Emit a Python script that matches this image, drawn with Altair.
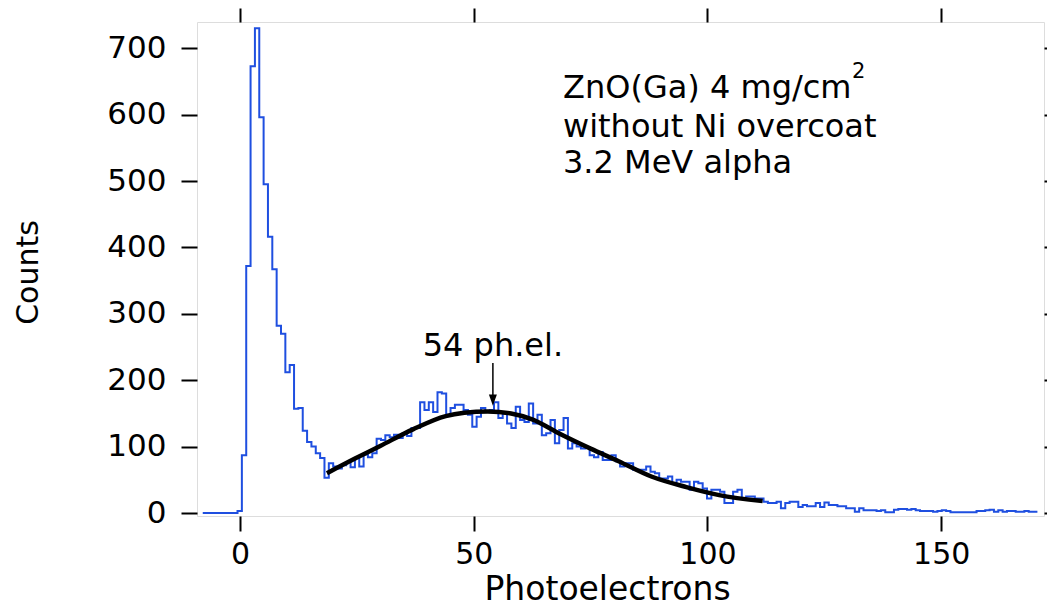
import altair as alt
import pandas as pd

# ---- histogram (step) data ----
bin_start = -7.97
bin_width = 0.93
counts = [
    0, 0, 0, 0, 0, 0, 0, 0, 3,
    87, 372, 673, 730, 596, 495, 416, 367, 282, 270,
    212, 223, 157, 158, 124, 107, 100, 90, 83, 53,
    75, 70, 67, 72, 77, 69, 83, 70, 88, 84, 90,
    112, 110, 117, 114, 118, 113, 120, 116,
    128, 128,
    167, 155, 167, 152, 182, 180, 148, 158, 163, 163,
    155, 148, 130, 145, 158, 152, 155, 167, 143, 150,
    135, 128, 160, 140, 137, 165, 135, 148, 117, 120,
    140, 105, 125, 143, 97, 105, 100, 97, 99, 87,
    84, 92, 80, 80, 87, 78, 70, 75, 75, 65,
    65, 65, 70, 62, 60, 52, 52, 55, 45, 50,
    47, 47, 35, 47, 45, 37, 22, 35, 35, 32,
    15, 15, 32, 35, 22, 25, 25, 22, 22, 17,
    15, 15, 17, 7, 15, 17, 17, 9, 12, 10,
    10, 15, 9, 16, 12, 12, 10, 10, 7, 7,
    2, 7, 4, 4, 4, 3, 4, 1, 1, 5,
    6, 6, 5, 6, 4, 3, 3, 3, 2, 3,
    4, 3, 1, 1, 1, 1, 1, 1, 3, 3,
    4, 5, 2, 4, 2, 3, 3, 2, 2, 3, 2, 2,
]

# ---- fitted curve ----
fit_x = [18.6, 24.6, 30, 37, 44, 48, 53, 58, 62.5, 68.5, 75, 81, 88, 95.5, 102.5, 111.8]
fit_y = [60, 82, 101, 126, 146, 151, 153, 150, 141, 119, 97, 78, 55, 39, 27, 18]

# ---- annotations ----
note_lines = ["ZnO(Ga) 4 mg/cm", "without Ni overcoat", "3.2 MeV alpha"]
note_y = [625, 566, 512]
note_x = 69.1
sup_text = "2"
sup_x, sup_y = 130.9, 655
peak_label = "54 ph.el."
peak_x = 54.1
peak_label_y = 236
arrow_top, arrow_head = 226, 170

x_ticks = [0, 50, 100, 150]
y_ticks = [0, 100, 200, 300, 400, 500, 600, 700]
x_domain = [-9.2, 172]
y_domain = [-4.5, 739.5]

FONT = "DejaVu Sans"

xs = [bin_start + i * bin_width for i in range(len(counts))]
hist = pd.DataFrame({"x": xs + [bin_start + len(counts) * bin_width],
                     "y": counts + [counts[-1]]})
fit = pd.DataFrame({"x": fit_x, "y": fit_y})
notes = pd.DataFrame({"x": [note_x] * 3, "y": note_y, "t": note_lines})
sup = pd.DataFrame({"x": [sup_x], "y": [sup_y], "t": [sup_text]})
peak = pd.DataFrame({"x": [peak_x], "y": [peak_label_y], "t": [peak_label]})
arrow = pd.DataFrame({"x": [peak_x], "y": [arrow_top], "y2": [arrow_head]})

xs_scale = alt.Scale(domain=x_domain, nice=False, zero=False)
ys_scale = alt.Scale(domain=y_domain, nice=False, zero=False)

hist_layer = alt.Chart(hist).mark_line(
    interpolate="step-after", color="#1f4fe0", strokeWidth=2
).encode(
    x=alt.X("x:Q", scale=xs_scale, axis=alt.Axis(
        values=x_ticks, orient="bottom", title="Photoelectrons", grid=False,
        domain=False, tickSize=15, tickWidth=2, tickColor="black",
        labelFontSize=30, labelFont=FONT, labelColor="black", labelPadding=8,
        titleFontSize=33, titleFont=FONT, titleFontWeight="normal", titleColor="black",
        titleX=410, titleY=83, titleBaseline="alphabetic", titleAlign="center")),
    y=alt.Y("y:Q", scale=ys_scale, axis=alt.Axis(
        values=y_ticks, orient="left", title="Counts", grid=False,
        domain=False, tickSize=16, tickWidth=2, tickColor="black",
        labelFontSize=31, labelFont=FONT, labelColor="black", labelPadding=15,
        titleFontSize=30, titleFont=FONT, titleFontWeight="normal", titleColor="black",
        titleX=-169, titleY=250, titleAngle=270, titleBaseline="middle", titleAlign="center")),
)

fit_layer = alt.Chart(fit).mark_line(
    interpolate="monotone", color="black", strokeWidth=4.5
).encode(
    x=alt.X("x:Q", scale=xs_scale, axis=alt.Axis(
        values=x_ticks, orient="top", labels=False, title=None, grid=False,
        domain=False, tickSize=14, tickWidth=2, tickColor="black")),
    y=alt.Y("y:Q", scale=ys_scale, axis=alt.Axis(
        values=y_ticks, orient="right", labels=False, title=None, grid=False,
        domain=False, tickSize=14, tickWidth=2, tickColor="black")),
)

notes_layer = alt.Chart(notes).mark_text(
    align="left", baseline="alphabetic", fontSize=32, font=FONT, color="black"
).encode(x=alt.X("x:Q", scale=xs_scale, axis=None),
         y=alt.Y("y:Q", scale=ys_scale, axis=None), text="t:N")

sup_layer = alt.Chart(sup).mark_text(
    align="left", baseline="alphabetic", fontSize=21, font=FONT, color="black"
).encode(x=alt.X("x:Q", scale=xs_scale, axis=None),
         y=alt.Y("y:Q", scale=ys_scale, axis=None), text="t:N")

peak_layer = alt.Chart(peak).mark_text(
    align="center", baseline="alphabetic", fontSize=32, font=FONT, color="black"
).encode(x=alt.X("x:Q", scale=xs_scale, axis=None),
         y=alt.Y("y:Q", scale=ys_scale, axis=None), text="t:N")

arrow_rule = alt.Chart(arrow).mark_rule(color="black", strokeWidth=1.5).encode(
    x=alt.X("x:Q", scale=xs_scale, axis=None),
    y=alt.Y("y:Q", scale=ys_scale, axis=None), y2="y2:Q")

arrow_head_layer = alt.Chart(arrow).mark_point(
    shape="M-0.7,-1L0.7,-1L0,1Z", filled=True, color="black", size=130, opacity=1
).encode(x=alt.X("x:Q", scale=xs_scale, axis=None),
         y=alt.Y("y2:Q", scale=ys_scale, axis=None))

chart = alt.layer(
    hist_layer, fit_layer, notes_layer, sup_layer, peak_layer, arrow_rule, arrow_head_layer
).resolve_axis(x="independent", y="independent").properties(
    width=847, height=494,
    autosize=alt.AutoSizeParams(type="none"),
    padding={"left": 189, "top": 14, "right": 3, "bottom": 90},
    background="white",
).configure_view(stroke="black", strokeWidth=2).configure(font=FONT)

chart.save("out.html", embed_options={"renderer": "svg", "actions": False})
